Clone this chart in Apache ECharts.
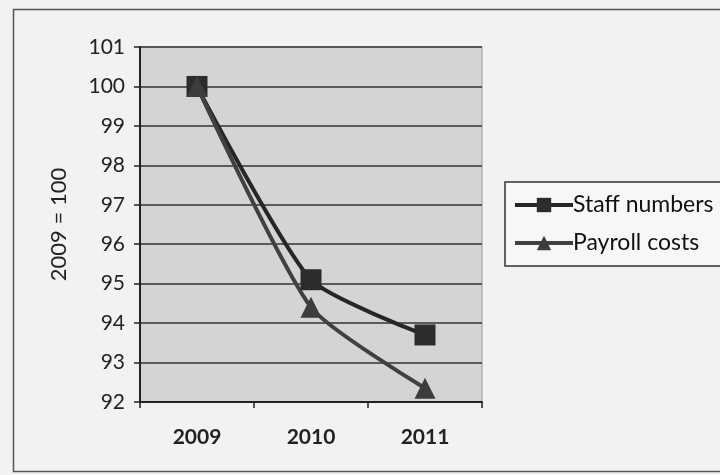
<!DOCTYPE html>
<html>
<head>
<meta charset="utf-8">
<script src="https://cdn.jsdelivr.net/npm/echarts@6/dist/echarts.min.js"></script>
<style>
html,body{margin:0;padding:0;background:#f2f2f2;}
#c{width:720px;height:475px;}
</style>
</head>
<body>
<div id="c"></div>
<script>
const categories = ['2009', '2010', '2011'];
const staffNumbers = [100, 95.1, 93.7];
const payrollCosts = [100, 94.4, 92.35];
const yTicks = [92, 93, 94, 95, 96, 97, 98, 99, 100, 101];

const chart = echarts.init(document.getElementById('c'));
const font = 'Lato, "Open Sans", sans-serif';
chart.setOption({
  backgroundColor: '#f2f2f2',
  animation: false,
  graphic: [{
    type: 'rect', left: 11, top: 7, shape: {width: 720, height: 462},
    style: {fill: 'none', stroke: '#555', lineWidth: 1.5}, silent: true, z: -1
  }],
  grid: {
    left: 140, right: 238, top: 47, bottom: 73,
    show: true, backgroundColor: '#d4d4d4', borderColor: '#999', borderWidth: 1
  },
  legend: {
    left: 505, top: 182, orient: 'vertical',
    data: ['Staff numbers', 'Payroll costs'],
    itemWidth: 58, itemHeight: 18, itemGap: 12, padding: [10, 40, 10, 8],
    borderColor: '#333', borderWidth: 1.5, backgroundColor: '#f7f7f7',
    lineStyle: {width: 4},
    textStyle: {fontFamily: font, fontSize: 23, lineHeight: 26, color: '#111', padding: [0, 0, 0, -5]}
  },
  xAxis: {
    type: 'category', data: categories, boundaryGap: true,
    axisLine: {lineStyle: {color: '#222', width: 2}},
    axisTick: {show: true, length: 6, lineStyle: {color: '#222', width: 1.5}},
    axisLabel: {fontFamily: font, fontSize: 21, fontWeight: 'bold', color: '#222', margin: 25}
  },
  yAxis: {
    type: 'value', min: 92, max: 101, interval: 1,
    name: '2009 = 100', nameLocation: 'middle', nameGap: 70, nameRotate: 90,
    nameTextStyle: {fontFamily: font, fontSize: 22, color: '#222'},
    axisLine: {show: true, lineStyle: {color: '#222', width: 2}},
    axisTick: {show: true, length: 6, lineStyle: {color: '#222', width: 1.5}},
    axisLabel: {fontFamily: font, fontSize: 21, color: '#222', margin: 15,
      formatter: v => yTicks.includes(v) ? String(v) : ''},
    splitLine: {show: true, lineStyle: {color: '#333', width: 1.5}}
  },
  series: [{
    name: 'Staff numbers', type: 'line', data: staffNumbers, smooth: 0.2,
    symbol: 'rect', symbolSize: 21,
    lineStyle: {color: '#262626', width: 4},
    itemStyle: {color: '#2c2c2c'}
  }, {
    name: 'Payroll costs', type: 'line', data: payrollCosts, smooth: 0.2,
    symbol: 'triangle', symbolSize: 21,
    lineStyle: {color: '#404040', width: 4},
    itemStyle: {color: '#3c3c3c'}
  }]
});
</script>
</body>
</html>
